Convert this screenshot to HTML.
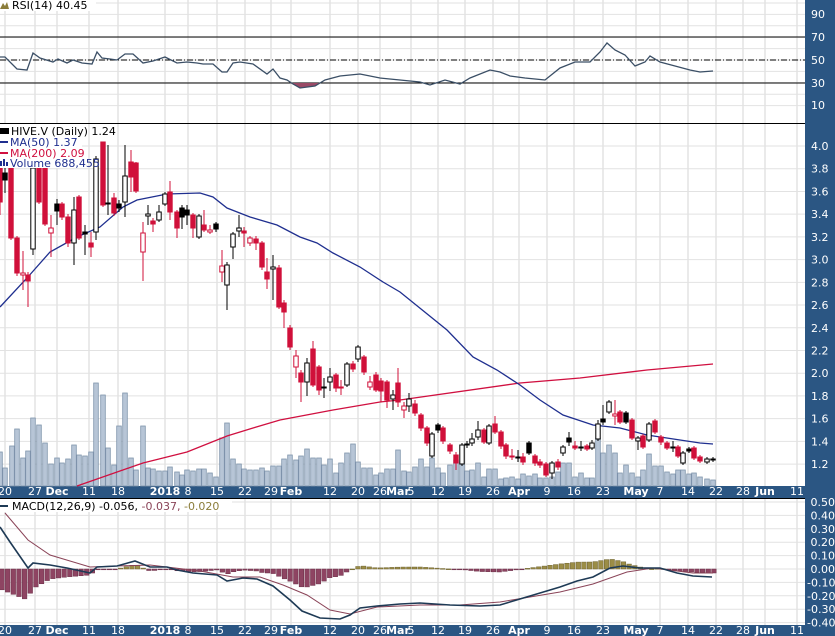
<!DOCTYPE html>
<html><head><meta charset="utf-8">
<style>
html,body{margin:0;padding:0;background:#fff;}
svg{display:block;font-family:"DejaVu Sans","Liberation Sans",sans-serif;}
</style></head>
<body>
<svg id="c" width="835" height="636" viewBox="0 0 835 636" xmlns="http://www.w3.org/2000/svg"></svg>
<script>
const S=document.getElementById('c');let h='';
const P=(a)=>a.map(p=>p.join(',')).join(' ');
const AX='#2b5683';
h+=`<rect x="0" y="0" width="835" height="636" fill="#fff"/>`;
h+=`<rect x="805" y="0" width="30" height="636" fill="${AX}"/>`;
h+=`<rect x="0" y="486" width="835" height="12" fill="${AX}"/>`;
h+=`<rect x="0" y="625" width="835" height="11" fill="${AX}"/>`;
const dates=[[5,'20'],[35,'27'],[57,'Dec',1],[89,'11'],[118,'18'],[165,'2018',1],[188,'8'],[217,'15'],[245,'22'],[271,'29'],[291,'Feb',1],[330,'12'],[358,'20'],[380,'26'],[398,'Mar',1],[411,'5'],[438,'12'],[465,'19'],[493,'26'],[519,'Apr',1],[547,'9'],[574,'16'],[603,'23'],[636,'May',1],[660,'7'],[688,'14'],[716,'22'],[743,'28'],[765,'Jun',1],[797,'11']];
dates.forEach(d=>{if(d[1]!=='Mar'){h+=`<line x1="${d[0]}" y1="0" x2="${d[0]}" y2="486" stroke="#d6d6d6"/><line x1="${d[0]}" y1="498" x2="${d[0]}" y2="625" stroke="#d6d6d6"/>`;}});
for(let v=10;v<=100;v+=10){const y=117-v*1.14;h+=`<line x1="0" y1="${y}" x2="805" y2="${y}" stroke="#e2e2e2"/>`;}
h+=`<line x1="0" y1="37" x2="805" y2="37" stroke="#000"/><line x1="0" y1="83" x2="805" y2="83" stroke="#000"/><line x1="0" y1="60" x2="805" y2="60" stroke="#000" stroke-dasharray="6,2,1,2"/>`;
h+=`<line x1="0" y1="123.5" x2="805" y2="123.5" stroke="#000"/>`;
[[14,'90'],[37,'70'],[60,'50'],[83,'30'],[105,'10']].forEach(l=>h+=`<text x="811" y="${l[0]+4}" fill="#fff" font-size="11">${l[1]}</text>`);
const rsi=[[0,57],[5,57],[17,69],[27,70],[33,53],[40,58],[53,62],[58,59],[67,63],[73,60],[82,63],[92,64],[97,52],[102,58],[110,59],[117,60],[125,54],[133,54],[143,63],[153,61],[165,57],[177,63],[187,62],[197,63],[203,64],[213,64],[222,72],[227,72],[233,63],[240,62],[253,64],[267,74],[273,69],[280,78],[287,80],[293,84],[300,88],[315,86],[325,80],[340,76],[360,74],[380,78],[400,80],[420,82],[430,85],[445,80],[460,84],[470,78],[490,70],[500,72],[510,76],[525,78],[545,80],[560,68],[575,62],[590,62],[600,52],[607,43],[615,50],[625,55],[635,66],[645,62],[650,56],[660,62],[675,66],[690,70],[700,72],[713,71]];
h+=`<polygon points="290,83 300,88 315,86 320,83" fill="#9a4a66"/>`;
h+=`<polyline points="${P(rsi)}" fill="none" stroke="#3b4f66" stroke-width="1.3"/>`;
for(let p=1.2;p<=4.01;p+=0.2){const y=146+(4-p)*113.6;h+=`<line x1="0" y1="${y}" x2="805" y2="${y}" stroke="#e2e2e2"/><text x="811" y="${y+4}" fill="#fff" font-size="11">${p.toFixed(1)}</text>`;}
const vol=[[0,452],[5,468],[12,446],[17,429],[23,458],[28,451],[33,418],[39,425],[45,443],[51,464],[57,458],[62,463],[68,459],[74,445],[79,455],[85,456],[91,452],[96,383],[103,395],[108,448],[114,465],[119,426],[125,393],[131,458],[136,470],[143,426],[148,468],[153,469],[159,471],[165,471],[170,467],[177,472],[182,475],[187,470],[193,471],[199,469],[204,469],[210,473],[216,477],[222,438],[227,423],[233,459],[239,464],[244,469],[250,470],[256,470],[262,468],[267,471],[273,466],[279,466],[284,459],[290,455],[296,460],[301,456],[307,449],[313,458],[319,458],[324,465],[330,459],[336,473],[341,463],[347,453],[353,444],[358,462],[364,468],[370,468],[376,475],[381,473],[387,469],[393,469],[398,450],[404,471],[409,472],[415,467],[421,459],[427,467],[432,458],[438,468],[443,473],[450,465],[456,460],[462,462],[467,471],[472,470],[478,463],[484,477],[489,469],[495,469],[501,479],[506,478],[512,477],[518,479],[523,474],[529,476],[535,474],[540,478],[546,478],[552,477],[558,472],[563,463],[569,463],[575,477],[581,473],[587,478],[592,478],[598,438],[603,453],[609,445],[615,453],[620,473],[626,465],[632,473],[638,477],[643,470],[649,454],[655,466],[661,466],[667,472],[673,474],[678,470],[683,470],[689,474],[694,473],[700,477],[707,479],[713,480]];
vol.forEach(v=>h+=`<rect x="${v[0]-2.3}" y="${v[1]}" width="4.6" height="${486-v[1]}" fill="#b7c5d6" stroke="#7e93ab" stroke-width="0.8"/>`);
const ma50=[[0,307],[27,278],[50,252],[77,237],[100,227],[123,207],[137,200],[167,194],[200,193],[213,197],[227,208],[250,217],[277,225],[300,237],[317,243],[333,253],[360,267],[383,282],[400,292],[447,330],[473,357],[497,370],[520,385],[540,400],[563,415],[593,425],[620,428],[647,435],[680,440],[700,443],[713,444]];
const ma200=[[77,486],[143,463],[187,452],[227,436],[253,428],[280,420],[333,410],[380,402],[400,400],[520,383],[580,378],[647,370],[713,364]];
h+=`<polyline points="${P(ma200)}" fill="none" stroke="#d01040" stroke-width="1.3"/>`;
h+=`<polyline points="${P(ma50)}" fill="none" stroke="#1f2f8f" stroke-width="1.3"/>`;
const cd=[[0,168,202,160,215,'r'],[5,173,180,163,193,'b'],[11,168,238,165,240,'r'],[17,238,273,236,276,'r'],[23,273,275,251,290,'h'],[28,275,281,272,307,'r'],[33,168,249,165,255,'w'],[39,168,202,165,204,'r'],[45,168,224,165,226,'r'],[51,228,233,215,257,'h'],[57,204,211,199,225,'b'],[62,204,217,202,220,'r'],[68,217,243,214,247,'r'],[74,210,243,197,265,'w'],[79,197,238,195,240,'r'],[85,232,234,225,255,'b'],[91,243,247,232,257,'r'],[96,159,232,156,240,'w'],[103,142,205,142,207,'r'],[108,203,204,145,215,'b'],[114,198,213,193,216,'r'],[119,204,208,200,212,'b'],[125,176,202,145,217,'w'],[131,162,177,150,192,'r'],[136,163,191,162,193,'r'],[143,233,252,222,281,'h'],[148,214,216,205,225,'w'],[153,221,224,218,232,'r'],[159,212,220,205,222,'w'],[165,194,204,192,206,'w'],[170,192,212,181,220,'r'],[177,212,228,210,238,'r'],[182,208,217,205,229,'b'],[187,210,215,205,225,'b'],[193,215,228,213,238,'r'],[199,216,237,214,239,'w'],[204,225,230,210,232,'r'],[210,230,232,225,234,'h'],[216,224,229,222,232,'b'],[222,266,272,250,282,'h'],[227,265,285,262,310,'w'],[233,234,247,232,259,'w'],[239,228,231,215,237,'w'],[244,231,233,227,247,'r'],[250,238,243,236,246,'h'],[256,239,243,236,250,'r'],[262,243,267,241,270,'r'],[267,272,279,258,289,'r'],[273,267,269,255,300,'w'],[279,268,307,265,309,'r'],[284,303,312,300,328,'r'],[290,328,347,325,350,'r'],[296,356,367,350,378,'h'],[301,373,382,370,402,'r'],[307,363,382,358,396,'w'],[313,349,385,341,387,'r'],[319,367,390,365,395,'r'],[324,387,388,378,398,'b'],[330,377,382,368,391,'w'],[336,375,388,373,392,'r'],[341,387,388,380,395,'h'],[347,364,385,362,387,'w'],[353,364,369,361,372,'r'],[358,347,359,345,362,'w'],[364,357,372,355,375,'r'],[370,382,387,376,390,'h'],[376,375,390,372,392,'r'],[381,381,391,378,402,'r'],[387,382,400,380,408,'r'],[393,395,399,390,410,'w'],[398,383,402,368,407,'r'],[404,406,410,402,418,'h'],[409,399,406,393,412,'w'],[415,404,413,400,416,'r'],[421,415,428,413,431,'r'],[427,428,443,426,446,'r'],[432,434,456,432,458,'w'],[438,425,430,423,433,'b'],[443,428,441,426,444,'r'],[450,445,451,443,454,'r'],[456,455,463,452,470,'r'],[462,445,464,443,466,'w'],[467,444,445,441,448,'b'],[472,439,443,433,446,'w'],[478,430,437,421,440,'w'],[484,430,442,428,444,'r'],[489,426,443,424,445,'w'],[495,424,432,416,434,'r'],[501,432,446,430,449,'r'],[506,445,456,443,459,'r'],[512,456,457,449,460,'r'],[518,457,458,450,462,'b'],[523,457,462,453,465,'r'],[529,443,453,441,455,'b'],[535,456,463,454,466,'r'],[540,462,465,459,468,'r'],[546,464,475,462,477,'r'],[552,463,473,461,479,'w'],[558,462,467,459,470,'r'],[563,447,453,445,456,'w'],[569,438,442,432,446,'b'],[575,446,448,441,450,'r'],[581,447,448,441,451,'b'],[587,446,449,444,451,'r'],[592,443,448,440,450,'w'],[598,424,439,420,441,'w'],[603,419,422,405,425,'b'],[609,402,412,400,414,'w'],[615,414,416,400,425,'h'],[620,412,422,410,424,'r'],[626,413,422,411,424,'b'],[632,420,438,418,440,'r'],[638,438,441,436,450,'w'],[643,436,447,434,449,'r'],[649,424,440,422,442,'w'],[655,421,432,419,434,'r'],[661,437,442,435,445,'r'],[667,443,448,441,450,'r'],[673,447,448,441,452,'b'],[678,447,456,445,458,'r'],[683,453,463,451,465,'w'],[689,449,451,447,453,'b'],[694,448,458,446,460,'r'],[700,457,461,455,463,'r'],[707,459,462,457,464,'w'],[713,459,460,457,462,'w']];
cd.forEach(c=>{const[x,t,b,wt,wb,ty]=c;let col=(ty==='r'||ty==='h')?'#d0103a':'#000';let fill=ty==='r'?'#d0103a':ty==='b'?'#000':'#fff';
h+=`<line x1="${x}" y1="${wt}" x2="${x}" y2="${wb}" stroke="${col}" stroke-width="1"/>`;
h+=`<rect x="${x-2.2}" y="${t}" width="4.4" height="${Math.max(b-t,1)}" fill="${fill}" stroke="${col}" stroke-width="1"/>`;});
h+=`<rect x="0" y="124" width="82" height="44" fill="#fff"/>`;
h+=`<text x="11" y="135" font-size="11" fill="#000">HIVE.V (Daily) 1.24</text><rect x="0" y="128" width="9" height="6" fill="#000"/>`;
h+=`<line x1="0" y1="142" x2="8" y2="142" stroke="#1f2f8f" stroke-width="2"/><text x="10" y="146" font-size="11" fill="#1f2f8f">MA(50) 1.37</text>`;
h+=`<line x1="0" y1="153" x2="8" y2="153" stroke="#d01040" stroke-width="2"/><text x="10" y="157" font-size="11" fill="#d01040">MA(200) 2.09</text>`;
h+=`<rect x="0" y="161" width="2" height="5" fill="#1f2f8f"/><rect x="3" y="159" width="2" height="7" fill="#1f2f8f"/><rect x="6" y="162" width="2" height="4" fill="#1f2f8f"/><text x="10" y="167" font-size="11" fill="#1f2f8f">Volume 688,455</text>`;
h+=`<rect x="0" y="0" width="96" height="11" fill="#fff"/><polygon points="0,9 3,3 5,6 7,2 9,9" fill="#8b7d3a"/><text x="12" y="9" font-size="11" fill="#000">RSI(14) 40.45</text>`;
[495,634].forEach(yy=>dates.forEach(d=>h+=`<text x="${d[0]}" y="${yy}" text-anchor="middle" font-size="11" font-weight="${d[2]?'bold':'normal'}" fill="#fff">${d[1]}</text>`));
h+=`<line x1="0" y1="498.5" x2="805" y2="498.5" stroke="#000"/>`;
for(let v=-0.4;v<=0.501;v+=0.1){const y=569-v*134;h+=`<line x1="0" y1="${y}" x2="805" y2="${y}" stroke="#e2e2e2"/><text x="807" y="${y+4}" fill="#fff" font-size="11">${v<-0.001?'-':'\u00a0'}${Math.abs(v).toFixed(2)}</text>`;}
const macd=[[0,527],[10,542],[28,568],[33,563],[50,565],[67,568],[90,573],[97,567],[117,566],[135,561],[150,567],[167,567],[177,570],[193,573],[217,575],[227,581],[243,578],[257,579],[273,586],[290,600],[302,611],[320,618],[340,619],[350,615],[360,608],[377,606],[400,604],[420,603],[450,605],[480,606],[500,605],[530,596],[560,587],[577,581],[593,577],[610,568],[623,566],[640,568],[660,568],[677,573],[693,576],[712,577]];
const sig=[[5,513],[28,540],[50,555],[90,567],[117,566],[150,565],[200,571],[233,577],[260,577],[283,585],[307,595],[330,610],[350,614],[377,607],[420,605],[460,605],[500,602],[530,597],[560,592],[593,584],[627,572],[653,568],[693,573],[713,573]];
const itp=(a,x)=>{if(x<=a[0][0])return a[0][1];for(let i=1;i<a.length;i++){if(x<=a[i][0]){const t=(x-a[i-1][0])/(a[i][0]-a[i-1][0]);return a[i-1][1]+t*(a[i][1]-a[i-1][1]);}}return a[a.length-1][1];};
for(let x=2;x<=714;x+=5.65){let d=itp(macd,x)-itp(sig,x);if(x<25)d=Math.max(d,20+x*0.4);const y2=569+d;const up=d<0;
h+=`<rect x="${x-2.3}" y="${Math.min(569,y2)}" width="4.6" height="${Math.max(Math.abs(d),0.8)}" fill="${up?'#9b8d46':'#8e4462'}" stroke="${up?'#6e6230':'#6a2e46'}" stroke-width="0.5"/>`;}
h+=`<polyline points="${P(sig)}" fill="none" stroke="#8a4458" stroke-width="1"/>`;
h+=`<polyline points="${P(macd)}" fill="none" stroke="#1e3a55" stroke-width="1.6"/>`;
h+=`<rect x="0" y="499" width="232" height="13" fill="#fff"/><line x1="0" y1="506" x2="8" y2="506" stroke="#1e3a55" stroke-width="2"/><text x="12" y="510" font-size="11" fill="#000">MACD(12,26,9) -0.056, <tspan fill="#8a4458">-0.037,</tspan> <tspan fill="#8b7d3a">-0.020</tspan></text>`;
S.innerHTML=h;
</script>
</body></html>
